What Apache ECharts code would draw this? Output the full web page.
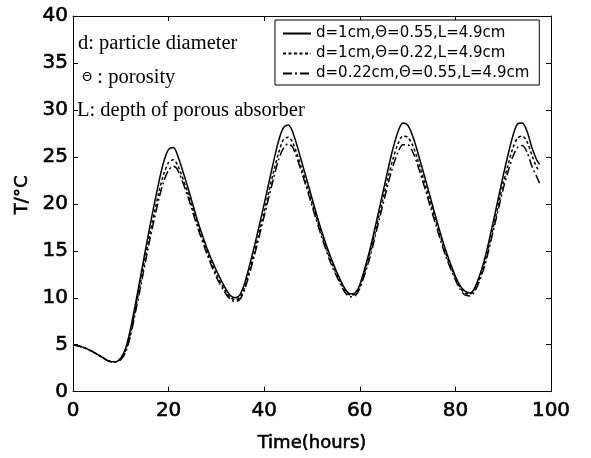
<!DOCTYPE html>
<html><head><meta charset="utf-8">
<script src="https://cdn.jsdelivr.net/npm/echarts@6/dist/echarts.min.js"></script>
<style>html,body{margin:0;padding:0;background:#fff}#c{width:591px;height:458px}</style>
</head><body><div id="c"></div>
<script>
const hours = [0,2,4,6,8,9,10,11,12,13,14,16,18,19,20,21,22,24,26,28,30,32,33,34,35,36,38,40,42,43,44,45,46,48,50,52,54,56,57,58,59,60,62,64,66,67,68,69,70,71,72,74,76,78,80,81,82,83,84,86,88,90,91,92,93,94,95,96,97,97.6];
const tempA = [5.0,4.75,4.3,3.7,3.2,3.2,3.6,4.6,6.6,9.2,11.9,17.4,22.4,24.5,25.8,26.0,25.0,21.8,18.3,15.3,12.9,10.9,10.2,10.0,10.4,11.7,15.6,20.0,24.6,26.7,28.1,28.4,27.6,24.2,20.6,17.1,14.2,11.8,10.9,10.4,10.5,11.4,14.9,19.3,23.9,26.0,27.7,28.6,28.4,27.3,25.7,22.1,18.4,15.0,12.3,11.3,10.7,10.5,11.0,13.9,18.3,23.0,25.2,27.2,28.5,28.6,27.7,26.0,24.7,24.2];
const tempB = [5.0,4.75,4.3,3.7,3.2,3.2,3.5,4.4,6.2,8.7,11.3,16.6,21.3,23.2,24.4,24.7,24.0,21.2,17.9,15.0,12.5,10.6,10.0,9.8,10.1,11.3,15.0,19.2,23.5,25.4,26.8,27.1,26.5,23.5,20.1,16.8,13.9,11.6,10.7,10.3,10.4,11.2,14.5,18.7,23.0,24.9,26.4,27.2,27.1,26.3,24.9,21.5,18.0,14.7,12.1,11.1,10.5,10.4,10.8,13.5,17.7,22.2,24.1,25.9,27.0,27.2,26.6,25.2,23.9,23.5];
const tempC = [5.0,4.75,4.3,3.7,3.2,3.2,3.4,4.2,5.9,8.3,10.8,16.0,20.6,22.4,23.6,24.0,23.5,20.8,17.6,14.7,12.2,10.4,9.8,9.6,9.9,11.0,14.6,18.7,22.8,24.7,25.9,26.4,26.0,23.1,19.8,16.5,13.6,11.4,10.5,10.1,10.2,11.0,14.1,18.2,22.3,24.1,25.5,26.3,26.3,25.6,24.3,21.0,17.6,14.4,11.9,10.9,10.3,10.2,10.6,13.2,17.3,21.6,23.4,25.0,26.0,26.2,25.5,24.0,22.9,22.2];
const seriesNames = ['d=1cm,\u0398=0.55,L=4.9cm','d=1cm,\u0398=0.22,L=4.9cm','d=0.22cm,\u0398=0.55,L=4.9cm'];
const xTicks = {min:0,max:100,interval:20};
const yTicks = {min:0,max:40,interval:5};
const notes = ['d: particle diameter','\u0398 : porosity','L: depth of porous absorber'];

const pair = (xs, ys) => xs.map((x,i)=>[x, ys[i]]);
const chart = echarts.init(document.getElementById('c'), null, {renderer:'canvas'});
const sans = 'DejaVu Sans';
const semi = {textBorderColor:'#000',textBorderWidth:0.6};
const axisCommon = {
  axisLine:{show:true,onZero:false,lineStyle:{color:'#000',width:1}},
  axisTick:{show:true,inside:true,length:5,lineStyle:{color:'#000'}},
  splitLine:{show:false}
};
chart.setOption({
  animation:false,
  backgroundColor:'#fff',
  grid:{left:73,right:40,top:16,bottom:60},
  xAxis:[
    Object.assign({type:'value',position:'bottom',min:xTicks.min,max:xTicks.max,interval:xTicks.interval,
      name:'Time(hours)',nameLocation:'middle',nameGap:43,
      nameTextStyle:Object.assign({fontFamily:sans,fontSize:18,color:'#000'},semi),
      axisLabel:Object.assign({fontFamily:sans,fontSize:20,color:'#000',margin:9},semi)},axisCommon),
    Object.assign({type:'value',position:'top',min:xTicks.min,max:xTicks.max,interval:xTicks.interval,
      axisLabel:{show:false}},axisCommon)
  ],
  yAxis:[
    Object.assign({type:'value',position:'left',min:yTicks.min,max:yTicks.max,interval:yTicks.interval,
      name:'T/\u00b0C',nameLocation:'middle',nameGap:40,
      nameTextStyle:Object.assign({fontFamily:sans,fontSize:18,color:'#000',padding:[0,0,0,18]},semi),
      axisLabel:Object.assign({fontFamily:sans,fontSize:20,color:'#000',margin:5},semi)},axisCommon),
    Object.assign({type:'value',position:'right',min:yTicks.min,max:yTicks.max,interval:yTicks.interval,
      axisLabel:{show:false}},axisCommon)
  ],
  legend:{
    orient:'vertical',left:275,top:20,width:262,
    itemWidth:28,itemHeight:10,itemGap:5,
    padding:[6,10,4,7],
    borderColor:'#000',borderWidth:1,backgroundColor:'#fff',
    itemStyle:{opacity:0},
    textStyle:{fontFamily:sans,fontSize:15,color:'#000'},
    data:seriesNames
  },
  series:[
    {name:seriesNames[0],type:'line',data:pair(hours,tempA),showSymbol:false,symbol:'none',smooth:0.3,
      lineStyle:{color:'#000',width:1.5,type:'solid'},itemStyle:{color:'#000'}},
    {name:seriesNames[1],type:'line',data:pair(hours,tempB),showSymbol:false,symbol:'none',smooth:0.3,
      lineStyle:{color:'#000',width:1.5,type:[3,2.5]},itemStyle:{color:'#000'}},
    {name:seriesNames[2],type:'line',data:pair(hours,tempC),showSymbol:false,symbol:'none',smooth:0.3,
      lineStyle:{color:'#000',width:1.5,type:[9,3,2,3]},itemStyle:{color:'#000'}}
  ],
  graphic:[
    {type:'text',left:78,top:33,style:{text:notes[0],font:'20.5px "Liberation Serif"',fill:'#000'}},
    {type:'text',left:82,top:67,style:{text:'{t|\u0398}{r| : porosity}',
      rich:{t:{fontFamily:sans,fontSize:13,color:'#000'},r:{fontFamily:'Liberation Serif',fontSize:20.5,color:'#000'}}}},
    {type:'text',left:77,top:100,style:{text:notes[2],font:'20.5px "Liberation Serif"',fill:'#000'}}
  ]
});
</script></body></html>
